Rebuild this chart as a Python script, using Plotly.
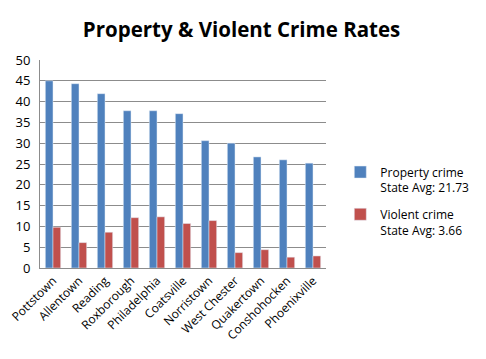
import plotly.graph_objects as go

cities = ["Pottstown", "Allentown", "Reading", "Roxborough", "Philadelphia", "Coatsville",
          "Norristown", "West Chester", "Quakertown", "Conshohocken", "Phoenixville"]
property_crime = [45.0, 44.3, 41.9, 37.8, 37.8, 37.1, 30.6, 30.0, 26.7, 26.0, 25.2]
violent_crime = [9.8, 6.1, 8.6, 12.1, 12.3, 10.7, 11.4, 3.7, 4.4, 2.6, 2.9]
series_names = ["Property crime<br>State Avg: 21.73", "Violent crime<br>State Avg: 3.66"]

font = "Open Sans, DejaVu Sans, sans-serif"
fig = go.Figure()
fig.add_bar(x=cities, y=property_crime, name=series_names[0], marker_color="#4F81BD",
            legendgroup="p")
fig.add_bar(x=cities, y=violent_crime, name=series_names[1], marker_color="#C0504D",
            legendgroup="v")

fig.update_layout(
    width=486, height=359,
    margin=dict(l=40, r=137, t=60, b=91),
    paper_bgcolor="white", plot_bgcolor="white",
    barmode="group", bargap=0.41, bargroupgap=0,
    title=dict(text="<b>Property & Violent Crime Rates</b>", x=0.497, xanchor="center",
               y=0.918, yanchor="middle", font=dict(family=font, size=20.5, color="black")),
    font=dict(family=font, size=11, color="black"),
    legend=dict(x=1.05, xanchor="left", y=0.53, yanchor="top", font=dict(size=12),
                itemwidth=30, tracegroupgap=8, traceorder="grouped", valign="top",
                bgcolor="rgba(0,0,0,0)"),
    showlegend=True,
)
fig.update_yaxes(range=[0, 50], dtick=5, showgrid=True, gridcolor="#8c8c8c", gridwidth=1,
                 showline=True, linecolor="#8c8c8c", ticks="", tickfont=dict(size=13),
                 ticklabelstandoff=6, zeroline=False, automargin=False)
fig.update_xaxes(showline=True, linecolor="#8c8c8c", tickangle=-45, ticks="",
                 tickfont=dict(size=12), mirror=False, automargin=False)
fig.write_html("out.html", config={"displayModeBar": False},
               post_script="document.body.style.margin='0';")
